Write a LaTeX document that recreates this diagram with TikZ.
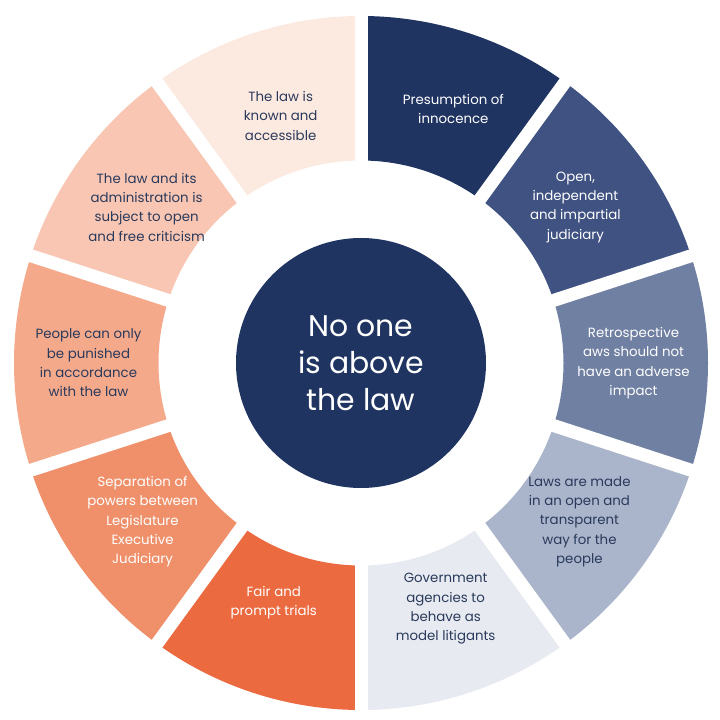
\documentclass[tikz,border=0pt]{standalone}
\usepackage{fontspec}
\setmainfont{Poppins}
\usetikzlibrary{calc,decorations.text}
\definecolor{navy}{HTML}{1F3461}
\definecolor{inktext}{HTML}{2A3A5C}
\definecolor{segA}{HTML}{1F3461}
\definecolor{segB}{HTML}{3F5282}
\definecolor{segC}{HTML}{7080A2}
\definecolor{segD}{HTML}{AAB4CA}
\definecolor{segE}{HTML}{E7EAF0}
\definecolor{segF}{HTML}{EC6A3F}
\definecolor{segG}{HTML}{F0906A}
\definecolor{segH}{HTML}{F4A98B}
\definecolor{segI}{HTML}{F8C6B2}
\definecolor{segJ}{HTML}{FCE9E0}
\tikzset{
    seglabel/.style={align=center,font=\fontsize{7.6}{11}\selectfont,text=inktext},
    darklabel/.style={seglabel,text=white},
    gapline/.style={white,line width=2.6mm}
}
\begin{document}
\begin{tikzpicture}
\useasboundingbox (0,0) rectangle (14.4,14.4);
\coordinate (c) at (7.22,7.14);
% ring segments, clockwise from the top
\foreach \mid/\col in {72/segA,36/segB,0/segC,-36/segD,-72/segE,-108/segF,-144/segG,180/segH,144/segI,108/segJ}
    \fill [\col] ($(c)+(\mid+18:4.05)$) arc (\mid+18:\mid-18:4.05)
        -- ($(c)+(\mid-18:6.94)$) arc (\mid-18:\mid+18:6.94) -- cycle;
\foreach \a in {90,54,...,-234}
    \draw [gapline] ($(c)+(\a:3.9)$) -- ($(c)+(\a:7.1)$);
\fill [navy] (c) circle (2.5);
\node [text=white,align=center,font=\fontsize{17}{21}\selectfont] (hub) at (c) {No one\\is above\\the law};
\path [decorate,decoration={text align=center,raise=0pt,
    text={|\fontsize{11.5}{12}\selectfont\color{navy}|The law is applied equally and fairly}}]
    ($(c)+(180:3.2)$) arc (180:0:3.2);
% segment labels
\node [darklabel] (innocence) at ($(c)+(70:5.4)$) {Presumption of\\innocence};
\node [darklabel] (judiciary) at ($(c)+(36:5.3)$) {Open,\\independent\\and impartial\\judiciary};
\node [darklabel] (retro) at ($(c)+(0:5.45)$) {Retrospective\\aws should not\\have an adverse\\impact};
\node [seglabel] (transparent) at ($(c)+(-36:5.4)$) {Laws are made\\in an open and\\transparent\\way for the\\people};
\node [seglabel] (litigants) at ($(c)+(-71:5.2)$) {Government\\agencies to\\behave as\\model litigants};
\node [darklabel] (trials) at ($(c)+(-110:5.1)$) {Fair and\\prompt trials};
\node [darklabel] (powers) at ($(c)+(-144:5.4)$) {Separation of\\powers between\\Legislature\\Executive\\Judiciary};
\node [seglabel] (punished) at ($(c)+(180:5.45)$) {People can only\\be punished\\in accordance\\with the law};
\node [seglabel] (criticism) at ($(c)+(144:5.3)$) {The law and its\\administration is\\subject to open\\and free criticism};
\node [seglabel] (accessible) at ($(c)+(108:5.2)$) {The law is\\known and\\accessible};
\end{tikzpicture}
\end{document}
